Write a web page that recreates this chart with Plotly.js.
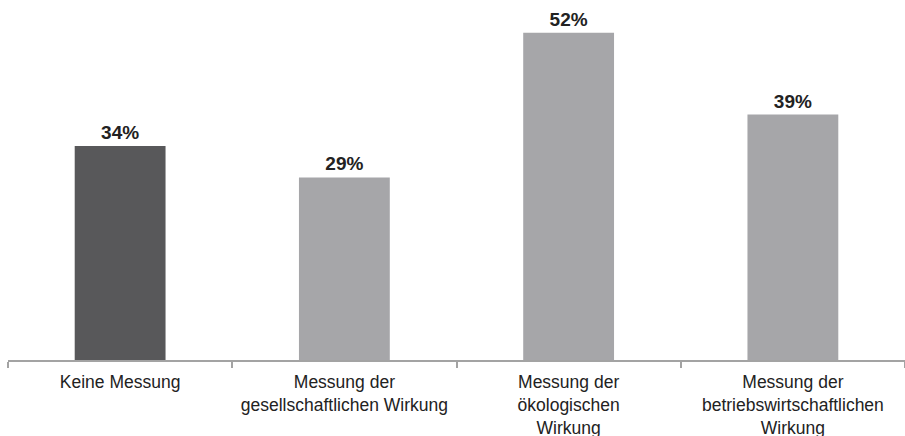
<!DOCTYPE html>
<html>
<head>
<meta charset="utf-8">
<script src="https://cdn.plot.ly/plotly-3.0.1.min.js"></script>
<style>html,body{margin:0;padding:0;background:#fff;}#chart{width:905px;height:436px;}</style>
</head>
<body>
<div id="chart"></div>
<script>
const categories = [
  "Keine Messung",
  "Messung der<br>gesellschaftlichen Wirkung",
  "Messung der<br>ökologischen<br>Wirkung",
  "Messung der<br>betriebswirtschaftlichen<br>Wirkung"
];
const values = [34, 29, 52, 39];
const labels = ["34%", "29%", "52%", "39%"];
const barColors = ["#58585a", "#a6a6a9", "#a6a6a9", "#a6a6a9"];

Plotly.newPlot("chart", [{
  type: "bar",
  x: categories,
  y: values,
  text: labels,
  textposition: "outside",
  cliponaxis: false,
  textfont: {family: "Liberation Sans, Arial, sans-serif", size: 19, color: "#222222", weight: "bold"},
  marker: {color: barColors},
  width: 0.405,
  hoverinfo: "none"
}], {
  width: 905, height: 436,
  margin: {l: 8, r: 0, t: 0, b: 76},
  paper_bgcolor: "#ffffff",
  plot_bgcolor: "#ffffff",
  showlegend: false,
  xaxis: {
    type: "category",
    showline: true, linecolor: "#a3a3a3", linewidth: 2,
    ticks: "outside", tickson: "boundaries", ticklen: 6, tickcolor: "#a3a3a3", tickwidth: 2,
    ticklabelstandoff: 5,
    tickfont: {family: "Liberation Sans, Arial, sans-serif", size: 17.5, color: "#222222"},
    showgrid: false, zeroline: false, fixedrange: true
  },
  yaxis: {
    range: [0, 57.2], visible: false, showgrid: false, zeroline: false, fixedrange: true
  }
}, {displayModeBar: false, staticPlot: true});
</script>
</body>
</html>
